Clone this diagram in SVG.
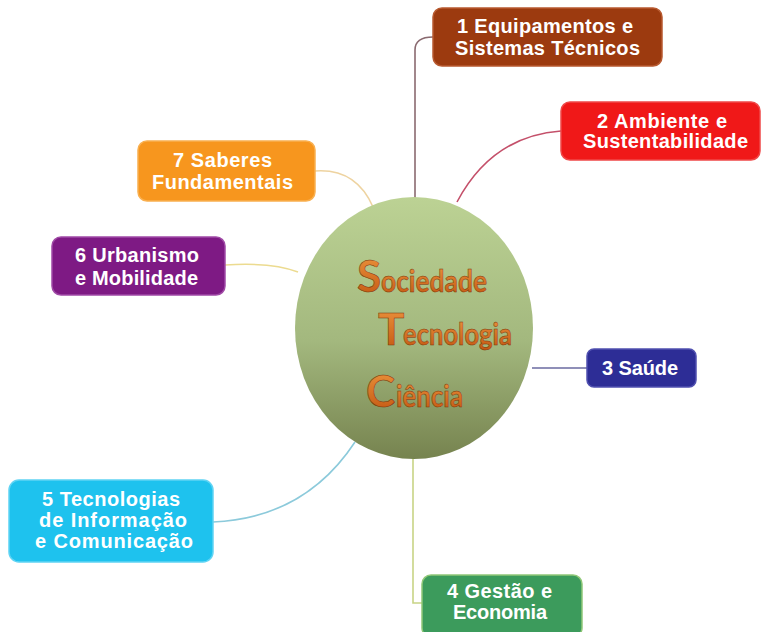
<svg xmlns="http://www.w3.org/2000/svg" width="763" height="632" viewBox="0 0 763 632">
<defs>
<linearGradient id="gCircle" x1="0" y1="0" x2="0" y2="1">
<stop offset="0" stop-color="#bcd294"/>
<stop offset="0.55" stop-color="#a3b87e"/>
<stop offset="1" stop-color="#76834f"/>
</linearGradient>
<linearGradient id="gOrange" x1="0" y1="0" x2="0" y2="1">
<stop offset="0" stop-color="#ee9840"/>
<stop offset="1" stop-color="#c25510"/>
</linearGradient>
</defs>
<style>
.box{stroke-width:1.5;}
.lbl{font-family:"Liberation Sans",Arial,sans-serif;font-weight:bold;font-size:20px;fill:#ffffff;}
.con{fill:none;stroke-width:1.6;}
.stc{font-family:Lato,"Open Sans",sans-serif;font-weight:bold;fill:url(#gOrange);stroke:#7a3208;stroke-width:0.5;}
.big{font-size:44px;}
.small{font-size:30px;}
</style>
<rect width="763" height="632" fill="#ffffff"/>
<g id="connectors">
<path class="con" d="M415 198 L415 50 Q415 37 433 37" stroke="#8a6a70"/>
<path class="con" d="M457 202 Q492 136 561 131" stroke="#c4506a"/>
<path class="con" d="M532 368 L587 368" stroke="#6a6aa0"/>
<path class="con" d="M413 458 L413 603 L422 603" stroke="#c8d485"/>
<path class="con" d="M355 442 Q305 518 213 522" stroke="#8ccadb"/>
<path class="con" d="M225 265 Q272 262 298 272" stroke="#ecdb90"/>
<path class="con" d="M315 171 Q356 168 373 207" stroke="#eed3a0"/>
</g>
<g id="center">
<ellipse cx="414" cy="328" rx="119" ry="131" fill="url(#gCircle)"/>
<text class="stc big" x="357" y="292" font-size="42">S</text>
<text class="stc small" x="381" y="292" textLength="106" lengthAdjust="spacingAndGlyphs">ociedade</text>
<text class="stc big" x="378" y="345">T</text>
<text class="stc small" x="403" y="345" textLength="109" lengthAdjust="spacingAndGlyphs">ecnologia</text>
<text class="stc big" x="366" y="407">C</text>
<text class="stc small" x="396" y="407" textLength="67" lengthAdjust="spacingAndGlyphs">iência</text>
</g>
<g id="n1">
<rect class="box" x="433" y="8" width="229" height="58" rx="9" fill="#9c3a0f" stroke="#b85a30"/>
<text class="lbl" x="457" y="33" textLength="176">1 Equipamentos e</text>
<text class="lbl" x="455" y="55" textLength="185">Sistemas Técnicos</text>
</g>
<g id="n2">
<rect class="box" x="561" y="102" width="199" height="58" rx="9" fill="#f01818" stroke="#f04848"/>
<text class="lbl" x="597" y="128" textLength="130">2 Ambiente e</text>
<text class="lbl" x="583" y="148" textLength="165">Sustentabilidade</text>
</g>
<g id="n3">
<rect class="box" x="587" y="349" width="109" height="38" rx="7" fill="#2d2d96" stroke="#5050b0"/>
<text class="lbl" x="602" y="375" textLength="76">3 Saúde</text>
</g>
<g id="n4">
<rect class="box" x="422" y="575" width="160" height="62" rx="9" fill="#3c9b5c" stroke="#90c878"/>
<text class="lbl" x="447" y="598" textLength="105">4 Gestão e</text>
<text class="lbl" x="453" y="619" textLength="94">Economia</text>
</g>
<g id="n5">
<rect class="box" x="9" y="480" width="204" height="82" rx="10" fill="#1ec2ee" stroke="#60d4f4"/>
<text class="lbl" x="42" y="506" textLength="138">5 Tecnologias</text>
<text class="lbl" x="39" y="527" textLength="148">de Informação</text>
<text class="lbl" x="35" y="548" textLength="158">e Comunicação</text>
</g>
<g id="n6">
<rect class="box" x="52" y="237" width="173" height="58" rx="9" fill="#7e1a84" stroke="#a04aa6"/>
<text class="lbl" x="75" y="262" textLength="124">6 Urbanismo</text>
<text class="lbl" x="75" y="285" textLength="123">e Mobilidade</text>
</g>
<g id="n7">
<rect class="box" x="138" y="141" width="177" height="60" rx="9" fill="#f7961e" stroke="#f9b050"/>
<text class="lbl" x="173" y="167" textLength="99">7 Saberes</text>
<text class="lbl" x="152" y="189" textLength="141">Fundamentais</text>
</g>
</svg>
